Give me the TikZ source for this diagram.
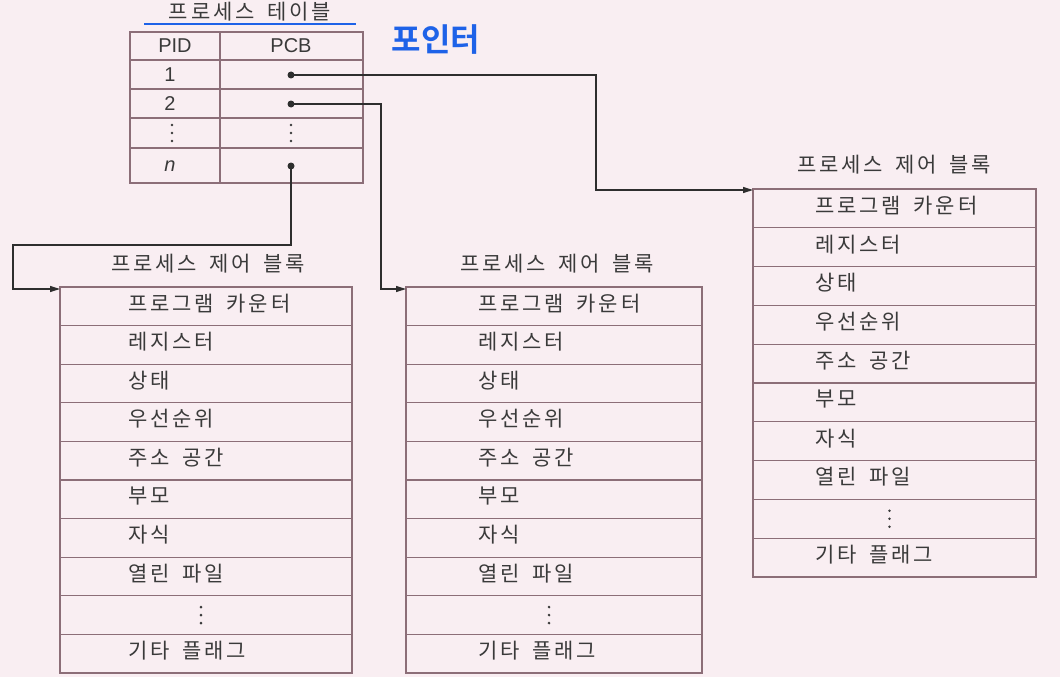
\documentclass[tikz,border=0pt]{standalone}
\usepackage{fontspec}
\setmainfont{Liberation Sans}
\newfontfamily\kr[LetterSpace=14,WordSpace=1.6]{Noto Sans CJK KR}
\newfontfamily\krb{Noto Sans CJK KR Bold}
\usetikzlibrary{arrows.meta}
\definecolor{bgc}{HTML}{F9EEF2}
\definecolor{gridc}{HTML}{8C6E78}
\definecolor{connc}{HTML}{2E2E2E}
\definecolor{txt}{HTML}{3A3A3A}
\definecolor{bluec}{HTML}{1E62E8}
\newcommand\vdotsnode[3]{%
  \node[minimum width=4pt, minimum height=20pt] (#1) at ({#2},{#3}) {};
  \foreach \dy in {-8,0,8} \fill[txt] ({#2},{#3+\dy}) circle (1.4pt);
}
\newcommand\pcbblock[6]{%
  \draw[grid] (#2,#4) rectangle (#3,#4+10*#5);
  \foreach \k in {1,...,9} \draw[grid] (#2,#4+\k*#5) -- (#3,#4+\k*#5);
  \foreach \t [count=\i] in {프로그램 카운터,레지스터,상태,우선순위,주소 공간,부모,자식,열린 파일}
    \node[kt] (#1-\i) at (#6,#4+\i*#5-0.5*#5-3) {\t};
  \vdotsnode{#1-9}{(#2+#3)/2-5}{#4+8.5*#5}
  \node[kt] (#1-10) at (#6,#4+9.5*#5-3) {기타 플래그};
}
\begin{document}
\begin{tikzpicture}[x=1pt,y=-1pt,
  every node/.style={inner sep=0pt, text=txt},
  grid/.style={draw=gridc, line width=1.2pt},
  conn/.style={draw=connc, line width=1.3pt},
  tip/.style={-{Triangle[length=10pt,width=6pt]}},
  kt/.style={font=\kr\fontsize{21}{21}\selectfont, anchor=west},
  ktc/.style={font=\kr\fontsize{21}{21}\selectfont},
  lt/.style={font=\fontsize{20}{20}\selectfont},
  dot/.style={circle, fill=connc, minimum size=7pt, inner sep=0pt}]
\fill[bgc] (0,0) rectangle (1060,677);
\useasboundingbox (0,0) rectangle (1060,677);

% process table
\node[ktc] (ttitle) at (250,12) {프로세스 테이블};
\draw[bluec, line width=1.5pt] (144,24) -- (356,24);
\draw[grid] (130,32) rectangle (363,183);
\foreach \y in {60,89,118,148} \draw[grid] (130,\y) -- (363,\y);
\draw[grid] (220,32) -- (220,183);
\node[lt] (pid) at (175,46) {PID};
\node[lt] (pcb) at (291,46) {PCB};
\node[lt] (p1) at (170,75) {1};
\node[lt] (p2) at (170,104) {2};
\vdotsnode{pv}{172}{133}
\node[lt] (pn) at (170,166) {\itshape n};
\node[dot] (d1) at (291,75) {};
\node[dot] (d2) at (291,104) {};
\vdotsnode{dv}{291}{133}
\node[dot] (dn) at (291,166) {};

\node[font=\krb\fontsize{32}{32}\selectfont, text=bluec] (ptr) at (436,40) {포인터};

% PCB blocks
\node[ktc] (ltitle) at (208,264) {프로세스 제어 블록};
\node[ktc] (mtitle) at (557,264) {프로세스 제어 블록};
\node[ktc] (rtitle) at (894,165) {프로세스 제어 블록};
\pcbblock{L}{60}{352}{287}{38.6}{128}
\pcbblock{M}{406}{702}{287}{38.6}{478}
\pcbblock{R}{753}{1036}{189}{38.8}{815}
\coordinate (Lin) at (60,289);
\coordinate (Min) at (406,289);
\coordinate (Rin) at (753,190);

% connectors
\draw[conn,tip] (d1.center) -- ++(305,0) |- (Rin);
\draw[conn,tip] (d2.center) -- ++(90,0) |- (Min);
\draw[conn,tip] (dn.center) -- ++(0,79) -- ++(-278,0) |- (Lin);
\end{tikzpicture}
\end{document}
